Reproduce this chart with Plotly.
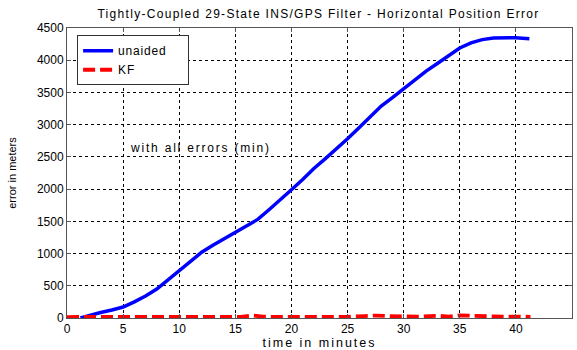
import plotly.graph_objects as go

# Data
t_unaided = [1.2, 2, 3, 4, 5, 6, 7, 8, 9, 10, 11, 12, 13, 14, 15, 16, 17, 18, 19, 20,
             21, 22, 23, 24, 25, 26, 27, 28, 29, 30, 31, 32, 33, 34, 35, 36, 37, 38, 39, 40, 41.2]
err_unaided = [0, 40, 85, 125, 170, 250, 340, 450, 590, 740, 880, 1020, 1130, 1230, 1320, 1420,
               1530, 1680, 1830, 1990, 2150, 2320, 2470, 2620, 2780, 2950, 3120, 3290, 3420, 3560,
               3700, 3830, 3950, 4070, 4190, 4270, 4320, 4345, 4350, 4350, 4335]

t_kf = [0, 2, 4, 6, 8, 10, 12, 14, 15.5, 16.5, 17.5, 19, 21, 23, 25, 26.5, 27.5, 28.5, 30, 31.5,
        33, 34, 35, 36, 37, 38, 39, 40, 41.3]
err_kf = [15, 18, 15, 17, 15, 16, 15, 17, 18, 40, 20, 16, 15, 17, 18, 30, 38, 30, 22, 20,
          35, 22, 40, 35, 20, 18, 20, 22, 18]

x_ticks = [0, 5, 10, 15, 20, 25, 30, 35, 40, 45]
y_ticks = [0, 500, 1000, 1500, 2000, 2500, 3000, 3500, 4000, 4500]

title_text = "Tightly-Coupled 29-State INS/GPS Filter - Horizontal Position Error"
note_text = "with all errors (min)"
x_title = "time in minutes"
y_title = "error in meters"
legend_names = ["unaided", "KF"]


def spaced(s, px):
    return '<span style="letter-spacing:%spx">%s</span>' % (px, s)


PAD = "\u00a0" * 5
FONT = "Liberation Sans, Arial, sans-serif"

fig = go.Figure()
fig.add_trace(go.Scatter(x=t_unaided, y=err_unaided, mode="lines",
                         name=spaced(legend_names[0], 0.8) + PAD,
                         line=dict(color="#0000ff", width=3.5)))
fig.add_trace(go.Scatter(x=t_kf, y=err_kf, mode="lines",
                         name=spaced(legend_names[1], 0.8) + PAD,
                         line=dict(color="#ff0000", width=3.8, dash="12px,5px")))

axis_common = dict(
    showline=True, linecolor="#555555", linewidth=1, mirror="ticks",
    showgrid=True, gridcolor="#000000", gridwidth=1, griddash="dot",
    zeroline=False, ticks="inside", ticklen=4, tickcolor="#555555",
    automargin=False,
    tickfont=dict(family=FONT, size=12, color="#000000"),
)

fig.update_layout(
    width=577, height=350,
    margin=dict(l=67, r=5, t=28, b=32),
    paper_bgcolor="white", plot_bgcolor="white",
    font=dict(family=FONT, size=11, color="#000000"),
    title=dict(text=spaced(title_text, 1.3), x=0.552, xanchor="center", y=0.96, yanchor="middle",
               font=dict(family=FONT, size=12, color="#000000")),
    xaxis=dict(range=[0, 45], tickvals=x_ticks, ticktext=[str(v) for v in x_ticks],
               title=dict(text=spaced(x_title, 2), standoff=5,
                          font=dict(family=FONT, size=12.5)),
               **axis_common),
    yaxis=dict(range=[0, 4500], tickvals=y_ticks, ticktext=[str(v) for v in y_ticks],
               title=dict(text=y_title, standoff=18,
                          font=dict(family=FONT, size=11)),
               **axis_common),
    legend=dict(x=0.02, y=0.975, xanchor="left", yanchor="top",
                bgcolor="white", bordercolor="#333333", borderwidth=1,
                font=dict(family=FONT, size=12), tracegroupgap=0,
                itemwidth=30),
    showlegend=True,
)

fig.add_annotation(x=5.4, y=2643, text=spaced(note_text, 1.8), showarrow=False,
                   xanchor="left", yanchor="middle",
                   font=dict(family=FONT, size=12, color="#000000"))

fig.write_html("out.html")
